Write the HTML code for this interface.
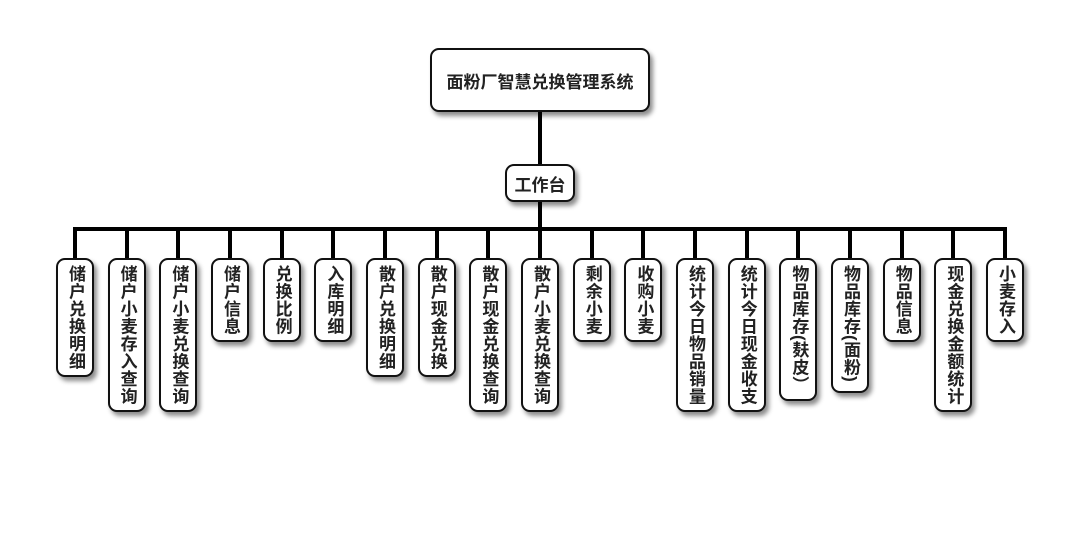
<!DOCTYPE html>
<html><head><meta charset="utf-8"><style>
body{margin:0;width:1080px;height:560px;background:#fff;position:relative;overflow:hidden;font-family:"Liberation Sans","Noto Sans CJK SC",sans-serif;font-weight:bold;color:#222}
.b{position:absolute;background:#fff;border:2px solid #111;border-radius:9px;box-shadow:3px 4px 5px rgba(0,0,0,.45);box-sizing:border-box;display:flex;align-items:center;justify-content:center}
.v{width:38px;top:258px;writing-mode:vertical-rl;font-size:17px;line-height:38px;letter-spacing:0.5px;justify-content:flex-start;padding-top:5px}
.l{position:absolute;background:#000}
</style></head><body>
<div class="l" style="left:538px;top:112px;width:4px;height:52px"></div>
<div class="l" style="left:538px;top:202px;width:4px;height:28px"></div>
<div class="l" style="left:73px;top:227px;width:934px;height:4px"></div>
<div class="b" style="left:430px;top:48px;width:220px;height:64px;font-size:17px">面粉厂智慧兑换管理系统</div>
<div class="b" style="left:505px;top:164px;width:70px;height:38px;font-size:17px">工作台</div>
<div id="c"></div>
<script>
var items=[["储户兑换明细",119],["储户小麦存入查询",154],["储户小麦兑换查询",154],["储户信息",84],["兑换比例",84],["入库明细",84],["散户兑换明细",119],["散户现金兑换",119],["散户现金兑换查询",154],["散户小麦兑换查询",154],["剩余小麦",84],["收购小麦",84],["统计今日物品销量",154],["统计今日现金收支",154],["物品库存(麸皮）",143],["物品库存(面粉)",135],["物品信息",84],["现金兑换金额统计",154],["小麦存入",84]];
var h="";
for(var i=0;i<items.length;i++){var cx=75+i*51.67;
h+='<div class="l" style="left:'+(cx-2)+'px;top:229px;width:4px;height:30px"></div>';
h+='<div class="b v" style="left:'+(cx-19)+'px;height:'+items[i][1]+'px">'+items[i][0]+'</div>';}
document.getElementById("c").innerHTML=h;
</script>
</body></html>
